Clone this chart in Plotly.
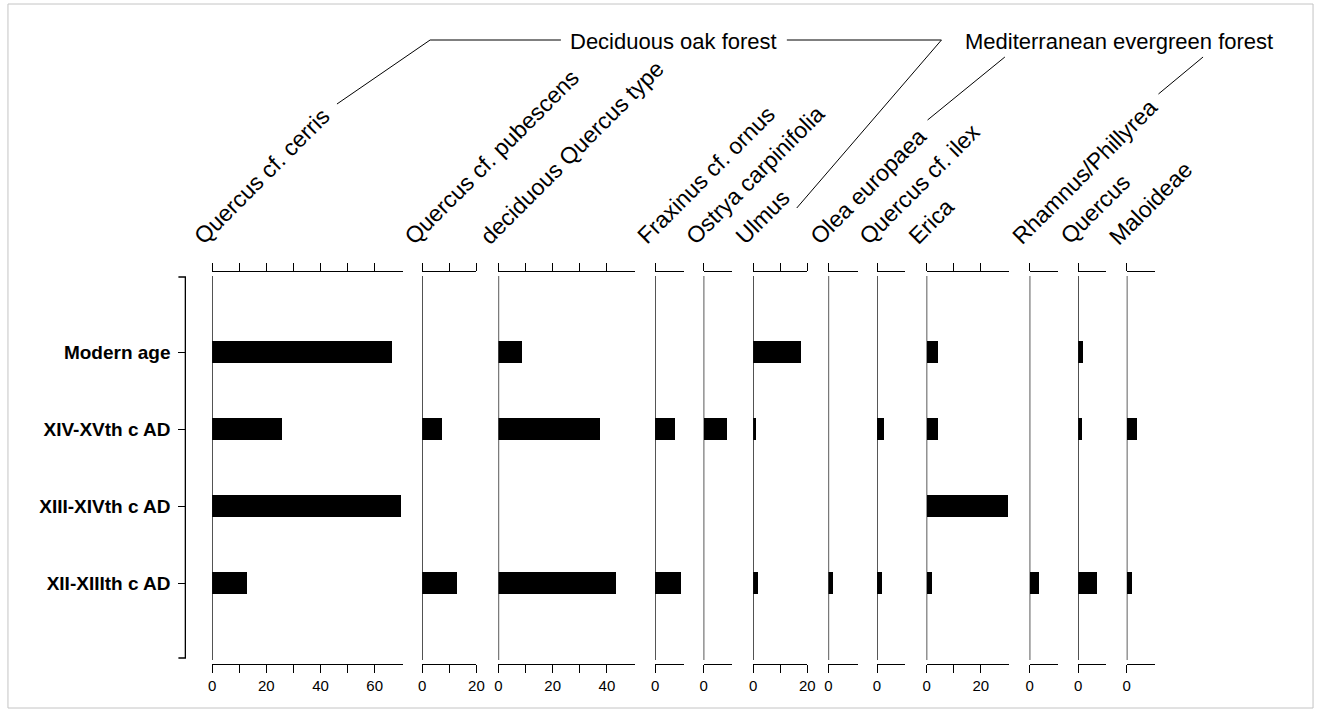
import plotly.graph_objects as go

# ---- data -------------------------------------------------------------
periods = ["XII-XIIIth c AD", "XIII-XIVth c AD", "XIV-XVth c AD", "Modern age"]

taxa = [
    "Quercus cf. cerris", "Quercus cf. pubescens", "deciduous Quercus type",
    "Fraxinus cf. ornus", "Ostrya carpinifolia", "Ulmus", "Olea europaea",
    "Quercus cf. ilex", "Erica", "Rhamnus/Phillyrea", "Quercus", "Maloideae",
]

# values per taxon, ordered as `periods` (None = not recorded)
quercus_cerris = [12.8, 69.6, 25.9, 66.5]
quercus_pubescens = [12.8, None, 7.3, None]
deciduous_quercus = [43.7, None, 37.6, 8.7]
fraxinus_ornus = [9.5, None, 7.3, None]
ostrya_carpinifolia = [None, None, 8.3, None]
ulmus = [1.8, None, 1.2, 17.8]
olea_europaea = [1.8, None, None, None]
quercus_ilex = [2.0, None, 2.4, None]
erica = [2.0, 30.0, 4.0, 4.0]
rhamnus_phillyrea = [3.4, None, None, None]
quercus_evergreen = [7.0, None, 1.5, 1.8]
maloideae = [1.8, None, 3.7, None]

series = [quercus_cerris, quercus_pubescens, deciduous_quercus, fraxinus_ornus,
          ostrya_carpinifolia, ulmus, olea_europaea, quercus_ilex, erica,
          rhamnus_phillyrea, quercus_evergreen, maloideae]

# x-axis extent of each panel and its tick marks / labels
axis_max = [70.3, 20, 50.5, 10.6, 10.6, 20, 11, 10.4, 30.4, 10.4, 10.4, 10.6]
tick_vals = [[0, 10, 20, 30, 40, 50, 60], [0, 10, 20], [0, 10, 20, 30, 40],
             [0], [0], [0, 10, 20], [0], [0], [0, 10, 20], [0], [0], [0]]
tick_text = [["0", "", "20", "", "40", "", "60"], ["0", "", "20"],
             ["0", "", "20", "", "40"], ["0"], ["0"], ["0", "", "20"], ["0"],
             ["0"], ["0", "", "20"], ["0"], ["0"], ["0"]]

# ---- layout geometry (pixels) -------------------------------------------
W, H = 1326, 712
PX_PER_UNIT = 2.735
panel_left = [210, 422, 499, 657, 706, 756, 832, 881, 931, 1035, 1084, 1133]
AXIS_TOP, AXIS_BOTTOM = 272, 664


def fx(px):
    return px / W


def fy(py):
    return 1 - py / H


FONT = "Liberation Sans, Arial, Helvetica, sans-serif"

fig = go.Figure()
layout = dict(
    width=W, height=H,
    margin=dict(l=0, r=0, t=0, b=0),
    paper_bgcolor="white", plot_bgcolor="white",
    showlegend=False, bargap=0,
)

shapes = []
annotations = []

for i, (name, vals) in enumerate(zip(taxa, series)):
    n = i + 1
    xk = "x" if n == 1 else f"x{n}"
    yk = "y" if n == 1 else f"y{n}"
    fig.add_trace(go.Bar(
        x=vals, y=periods, orientation="h",
        marker=dict(color="black", line=dict(width=0)),
        width=0.29, xaxis=xk, yaxis=yk, name=name,
        hovertemplate="%{y}: %{x}<extra>" + name + "</extra>",
    ))

    x0 = panel_left[i]
    x1 = x0 + axis_max[i] * PX_PER_UNIT
    layout["xaxis" if n == 1 else f"xaxis{n}"] = dict(
        domain=[fx(x0), fx(x1)], range=[0, axis_max[i]], anchor=yk,
        showline=True, linecolor="black", linewidth=1.3, mirror="ticks",
        ticks="outside", ticklen=8, tickwidth=1.2, tickcolor="black",
        tickmode="array", tickvals=tick_vals[i], ticktext=tick_text[i],
        tickfont=dict(family=FONT, size=15, color="black"),
        showgrid=False, zeroline=False, fixedrange=True,
    )
    ydict = dict(
        domain=[fy(AXIS_BOTTOM), fy(AXIS_TOP)], range=[-1.05, 4.04],
        type="category", categoryorder="array", categoryarray=periods,
        showgrid=False, zeroline=False, fixedrange=True, showline=False,
    )
    if n == 1:
        ydict.update(anchor="free", position=fx(183), ticks="outside",
                     ticklen=7, tickwidth=1.2, tickcolor="black",
                     ticklabelstandoff=4,
                     tickfont=dict(family=FONT, size=19, color="black",
                                   weight="bold"))
    else:
        ydict.update(anchor=xk, matches="y", showticklabels=False, ticks="")
    layout["yaxis" if n == 1 else f"yaxis{n}"] = ydict

    # zero line of each panel
    shapes.append(dict(type="line", xref=xk, yref="paper", x0=0, x1=0,
                       y0=fy(660), y1=fy(276),
                       line=dict(color="black", width=1.3)))

    # slanted taxon name
    annotations.append(dict(
        text=name, textangle=-45, xref="paper", yref="paper",
        x=fx(x0 - 26), y=fy(252), xanchor="left", yanchor="bottom",
        showarrow=False, font=dict(family=FONT, size=23, color="black"),
    ))

# left bracket spanning the periods
shapes.append(dict(
    type="path", xref="paper", yref="paper",
    path=(f"M {fx(176)},{fy(277)} L {fx(183)},{fy(277)} "
          f"L {fx(183)},{fy(658)} L {fx(176)},{fy(658)}"),
    line=dict(color="black", width=1.3),
))

# vegetation group headers and their leader lines
annotations.append(dict(text="Deciduous oak forest", xref="paper", yref="paper",
                        x=fx(676), y=fy(41), xanchor="center", yanchor="middle",
                        showarrow=False,
                        font=dict(family=FONT, size=22, color="black")))
annotations.append(dict(text="Mediterranean evergreen forest", xref="paper",
                        yref="paper", x=fx(1125), y=fy(41), xanchor="center",
                        yanchor="middle", showarrow=False,
                        font=dict(family=FONT, size=22, color="black")))


def leader(points):
    d = "M " + " L ".join(f"{fx(px)},{fy(py)}" for px, py in points)
    return dict(type="path", xref="paper", yref="paper", path=d,
                line=dict(color="black", width=1))


shapes.append(leader([(336, 104), (430, 40), (562, 40)]))
shapes.append(leader([(790, 40), (946, 40), (800, 208)]))
shapes.append(leader([(932, 120), (1010, 57)]))
shapes.append(leader([(1165, 94), (1210, 57)]))

# frame around the figure
shapes.append(dict(type="rect", xref="paper", yref="paper",
                   x0=fx(4), x1=fx(1321), y0=fy(708), y1=fy(4),
                   line=dict(color="#c4c4c4", width=1)))

layout["shapes"] = shapes
layout["annotations"] = annotations
fig.update_layout(**layout)

fig.write_html("out.html")
